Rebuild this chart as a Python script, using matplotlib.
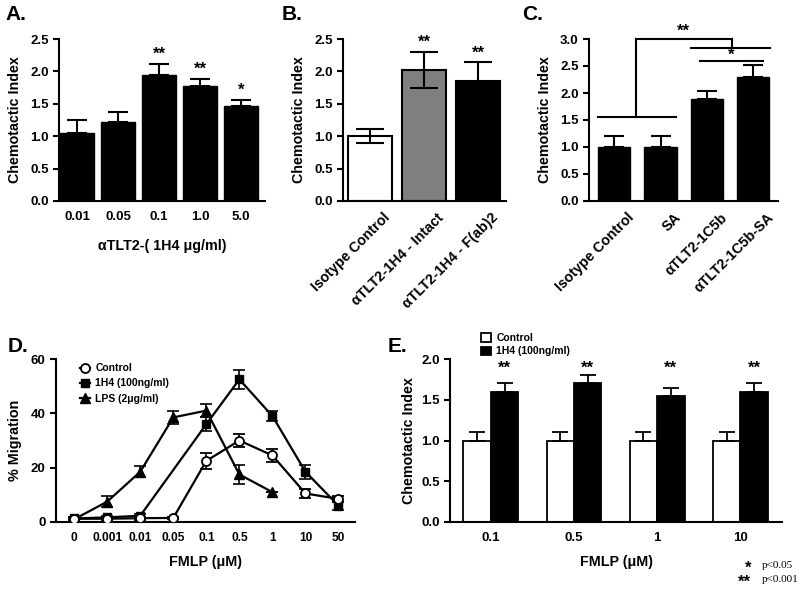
import numpy as np
import matplotlib
matplotlib.use("Agg")
import matplotlib.pyplot as plt
from matplotlib.lines import Line2D
from matplotlib.transforms import ScaledTranslation

plt.rcParams['font.family'] = ['Liberation Sans', 'DejaVu Sans']
plt.rcParams['font.weight'] = 'bold'
plt.rcParams['axes.labelweight'] = 'bold'

# ---- data ----
a_labels = ["0.01", "0.05", "0.1", "1.0", "5.0"]
a_values = [1.05, 1.22, 1.95, 1.77, 1.46]
a_err = [0.20, 0.15, 0.17, 0.12, 0.10]
a_stars = ["", "", "**", "**", "*"]

b_labels = ["Isotype Control", "αTLT2-1H4 - Intact", "αTLT2-1H4 - F(ab)2"]
b_values = [1.0, 2.02, 1.85]
b_err = [0.11, 0.28, 0.29]
b_colors = ["white", "#7f7f7f", "black"]
b_stars = ["", "**", "**"]

c_labels = ["Isotype Control", "SA", "αTLT2-1C5b", "αTLT2-1C5b-SA"]
c_values = [1.0, 1.0, 1.88, 2.30]
c_err = [0.20, 0.20, 0.15, 0.22]

d_labels = ["0", "0.001", "0.01", "0.05", "0.1", "0.5", "1", "10", "50"]
d_ctrl_x = [0, 1, 2, 3, 4, 5, 6, 7, 8]
d_ctrl_y = [1.2, 1.2, 1.4, 1.5, 22.5, 30.0, 24.5, 10.5, 8.5]
d_ctrl_e = [0.5, 0.5, 0.5, 0.5, 3.0, 2.5, 2.5, 1.5, 1.0]
d_1h4_x = [0, 1, 2, 4, 5, 6, 7, 8]
d_1h4_y = [1.3, 1.7, 2.3, 36.0, 52.5, 39.0, 18.5, 6.0]
d_1h4_e = [0.5, 0.5, 0.6, 2.5, 3.5, 2.0, 2.5, 1.5]
d_lps_x = [0, 1, 2, 3, 4, 5, 6]
d_lps_y = [1.0, 7.5, 18.5, 38.5, 41.0, 17.5, 11.0]
d_lps_e = [0.5, 2.0, 2.0, 2.5, 2.5, 3.5, 0.0]

e_labels = ["0.1", "0.5", "1", "10"]
e_ctrl = [1.0, 1.0, 1.0, 1.0]
e_ctrl_err = [0.1, 0.1, 0.1, 0.1]
e_1h4 = [1.6, 1.7, 1.55, 1.6]
e_1h4_err = [0.1, 0.1, 0.1, 0.1]

W, H = 800, 592
fig = plt.figure(figsize=(8, 5.92), dpi=100)
TICK = 9.5
LAB = 10.3


def ax_at(l, r, b, t):
    return fig.add_axes([l / W, 1 - b / H, (r - l) / W, (b - t) / H])


def style(ax, xsize=TICK):
    for s in ["top", "right"]:
        ax.spines[s].set_visible(False)
    for s in ["left", "bottom"]:
        ax.spines[s].set_linewidth(1.5)
    ax.tick_params(axis='y', width=1.5, length=4, labelsize=TICK)
    ax.tick_params(axis='x', length=0, labelsize=xsize, pad=7)
    for t in ax.get_xticklabels() + ax.get_yticklabels():
        t.set_fontweight('bold')


def shift_rotated(ax):
    off = ScaledTranslation(0.13, 0, fig.dpi_scale_trans)
    for lab in ax.get_xticklabels():
        lab.set_transform(lab.get_transform() + off)


# ---- A ----
axA = ax_at(59, 265, 201, 39)
xa = np.arange(len(a_values))
axA.bar(xa, a_values, width=0.83, color="black", edgecolor="black")
axA.errorbar(xa, a_values, yerr=[np.zeros(len(a_err)), a_err], fmt="none",
             ecolor="black", elinewidth=1.5, capsize=7.5, capthick=1.5)
for xi, v, e, s in zip(xa, a_values, a_err, a_stars):
    if s:
        axA.text(xi, v + e + 0.03, s, ha="center", va="bottom", fontsize=12, fontweight="bold")
axA.set_xlim(-0.44, 4.58)
axA.set_ylim(0, 2.5)
axA.set_yticks([0, 0.5, 1.0, 1.5, 2.0, 2.5])
axA.set_yticklabels(["0.0", "0.5", "1.0", "1.5", "2.0", "2.5"])
axA.set_xticks(xa)
axA.set_xticklabels(a_labels)
axA.set_ylabel("Chemotactic Index", fontsize=LAB, labelpad=6)
axA.set_xlabel("αTLT2-( 1H4 μg/ml)", fontsize=LAB, labelpad=12)
style(axA)
fig.text(5 / W, 1 - 15 / H, "A.", fontsize=15, fontweight="bold", va="center")

# ---- B ----
axB = ax_at(343, 506, 201, 39)
xb = np.arange(len(b_values))
axB.bar(xb, b_values, width=0.81, color=b_colors, edgecolor="black", linewidth=1.5)
axB.errorbar(xb, b_values, yerr=b_err, fmt="none", ecolor="black",
             elinewidth=1.5, capsize=10, capthick=1.5)
for xi, v, e, s in zip(xb, b_values, b_err, b_stars):
    if s:
        axB.text(xi, v + e + 0.03, s, ha="center", va="bottom", fontsize=12, fontweight="bold")
axB.set_xlim(-0.5, 2.52)
axB.set_ylim(0, 2.5)
axB.set_yticks([0, 0.5, 1.0, 1.5, 2.0, 2.5])
axB.set_yticklabels(["0.0", "0.5", "1.0", "1.5", "2.0", "2.5"])
axB.set_xticks(xb)
axB.set_xticklabels(b_labels, rotation=45, ha="right", rotation_mode="anchor")
axB.set_ylabel("Chemotactic Index", fontsize=LAB, labelpad=6)
style(axB, xsize=10.3)
shift_rotated(axB)
fig.text(282 / W, 1 - 15 / H, "B.", fontsize=15, fontweight="bold", va="center")

# ---- C ----
axC = ax_at(589, 778, 201, 39)
xc = np.arange(len(c_values))
axC.bar(xc, c_values, width=0.69, color="black", edgecolor="black")
axC.errorbar(xc, c_values, yerr=[np.zeros(len(c_err)), c_err], fmt="none",
             ecolor="black", elinewidth=1.5, capsize=7.5, capthick=1.5)
lk = dict(color="black", lw=1.5, clip_on=False)
axC.plot([-0.35, 1.33], [1.55, 1.55], **lk)
axC.plot([0.47, 0.47], [1.55, 3.0], **lk)
axC.plot([0.47, 2.53], [3.0, 3.0], **lk)
axC.plot([2.53, 2.53], [3.0, 2.83], **lk)
axC.plot([1.66, 3.35], [2.83, 2.83], **lk)
axC.plot([1.85, 3.2], [2.60, 2.60], **lk)
axC.text(1.5, 3.0, "**", ha="center", va="bottom", fontsize=12, fontweight="bold")
axC.text(2.53, 2.56, "*", ha="center", va="bottom", fontsize=12, fontweight="bold")
axC.set_xlim(-0.54, 3.53)
axC.set_ylim(0, 3.0)
axC.set_yticks([0, 0.5, 1.0, 1.5, 2.0, 2.5, 3.0])
axC.set_yticklabels(["0.0", "0.5", "1.0", "1.5", "2.0", "2.5", "3.0"])
axC.set_xticks(xc)
axC.set_xticklabels(c_labels, rotation=45, ha="right", rotation_mode="anchor")
axC.set_ylabel("Chemotactic Index", fontsize=LAB, labelpad=6)
style(axC, xsize=10.3)
shift_rotated(axC)
fig.text(522 / W, 1 - 15 / H, "C.", fontsize=15, fontweight="bold", va="center")

# ---- D ----
axD = ax_at(56, 355, 522, 359)
eb = dict(color="black", lw=1.6, elinewidth=1.2, capsize=4.5, capthick=1.2)
axD.errorbar(d_lps_x, d_lps_y, yerr=d_lps_e, marker="^", ms=6.5, mfc="black",
             mec="black", zorder=3, **eb)
axD.errorbar(d_1h4_x, d_1h4_y, yerr=d_1h4_e, marker="s", ms=5.5, mfc="black",
             mec="black", zorder=4, **eb)
axD.errorbar(d_ctrl_x, d_ctrl_y, yerr=d_ctrl_e, marker="o", ms=6.5, mfc="white",
             mec="black", mew=1.3, zorder=5, **eb)
axD.set_xlim(-0.55, 8.5)
axD.set_ylim(0, 60)
axD.set_yticks([0, 20, 40, 60])
axD.set_xticks(np.arange(len(d_labels)))
axD.set_xticklabels(d_labels)
axD.set_ylabel("% Migration", fontsize=LAB, labelpad=6)
axD.set_xlabel("FMLP (μM)", fontsize=LAB, labelpad=8)
handles = [
    Line2D([], [], color="black", lw=1.6, marker="o", ms=6.5, mfc="white", mec="black", mew=1.3),
    Line2D([], [], color="black", lw=1.6, marker="s", ms=5.5, mfc="black", mec="black"),
    Line2D([], [], color="black", lw=1.6, marker="^", ms=6.5, mfc="black", mec="black"),
]
leg = axD.legend(handles, ["Control", "1H4 (100ng/ml)", "LPS (2μg/ml)"],
                 loc="upper left", bbox_to_anchor=(0.065, 1.0),
                 frameon=False, fontsize=7.5, handlelength=1.0, handletextpad=0.5,
                 labelspacing=0.5, borderaxespad=0.0)
for t in leg.get_texts():
    t.set_fontweight("bold")
style(axD, xsize=8.6)
fig.text(8 / W, 1 - 346 / H, "D.", fontsize=15, fontweight="bold", va="center")

# ---- E ----
axE = ax_at(450, 782, 522, 359)
xe = np.arange(len(e_labels))
bw = 0.33
axE.bar(xe - bw / 2, e_ctrl, width=bw, color="white", edgecolor="black",
        linewidth=1.3, label="Control")
axE.bar(xe + bw / 2, e_1h4, width=bw, color="black", edgecolor="black",
        linewidth=1.3, label="1H4 (100ng/ml)")
axE.errorbar(xe - bw / 2, e_ctrl, yerr=[np.zeros(4), e_ctrl_err], fmt="none",
             ecolor="black", elinewidth=1.3, capsize=6, capthick=1.3)
axE.errorbar(xe + bw / 2, e_1h4, yerr=[np.zeros(4), e_1h4_err], fmt="none",
             ecolor="black", elinewidth=1.3, capsize=6, capthick=1.3)
for xi, v, e in zip(xe, e_1h4, e_1h4_err):
    axE.text(xi + bw / 2, 1.8, "**", ha="center", va="bottom", fontsize=12, fontweight="bold")
axE.set_xlim(-0.49, 3.5)
axE.set_ylim(0, 2.0)
axE.set_yticks([0, 0.5, 1.0, 1.5, 2.0])
axE.set_yticklabels(["0.0", "0.5", "1.0", "1.5", "2.0"])
axE.set_xticks(xe)
axE.set_xticklabels(e_labels)
axE.set_ylabel("Chemotactic Index", fontsize=LAB, labelpad=4)
axE.set_xlabel("FMLP (μM)", fontsize=LAB, labelpad=8)
legE = axE.legend(loc="lower left", bbox_to_anchor=(0.08, 0.99), frameon=False,
                  fontsize=7.5, handlelength=1.0, handleheight=0.9,
                  handletextpad=0.5, labelspacing=0.3, borderaxespad=0.0)
for t in legE.get_texts():
    t.set_fontweight("bold")
style(axE)
fig.text(388 / W, 1 - 346 / H, "E.", fontsize=15, fontweight="bold", va="center")

fig.text(748 / W, 1 - 568 / H, "*", fontsize=12, fontweight="bold", ha="center", va="center")
fig.text(744 / W, 1 - 582 / H, "**", fontsize=12, fontweight="bold", ha="center", va="center")
fig.text(762 / W, 1 - 566 / H, "p<0.05", fontsize=8, fontweight="normal",
         family="Liberation Serif", va="center")
fig.text(762 / W, 1 - 580 / H, "p<0.001", fontsize=8, fontweight="normal",
         family="Liberation Serif", va="center")

fig.savefig("out.png", dpi=100)
